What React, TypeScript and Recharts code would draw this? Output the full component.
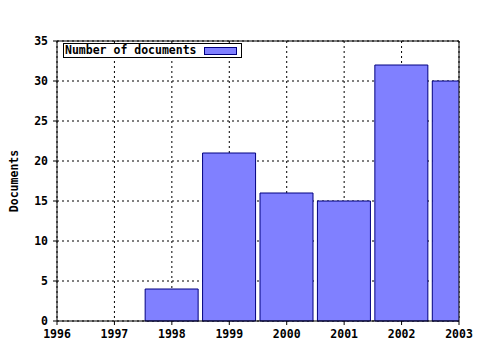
import { Bar, BarChart, CartesianGrid, ReferenceLine, XAxis, YAxis } from "recharts";

const years = [1996, 1997, 1998, 1999, 2000, 2001, 2002, 2003];
const documents = [0, 0, 4, 21, 16, 15, 32, 30];
const yTicks = [0, 5, 10, 15, 20, 25, 30, 35];
const seriesName = "Number of documents";
const yLabel = "Documents";

const data = years.map((year, i) => ({ year, documents: documents[i] }));
const minorTicks = years.slice(0, -1).flatMap((y) => [y + 0.25, y + 0.5, y + 0.75]);
const allTicks = [...years, ...minorTicks].sort((a, b) => a - b);

const font = '"DejaVu Sans Mono", monospace';
const tickStyle = { fill: "#000", fontSize: 11.5, fontFamily: font, fontWeight: "bold" };
const fillColor = "#8080ff";
const edgeColor = "#000080";

export default function App() {
  return (
    <div style={{ position: "absolute", left: 0, top: 0, width: 480, height: 350, background: "#fff" }}>
      <BarChart
        width={480}
        height={350}
        data={data}
        margin={{ top: 40, right: 21, bottom: 0, left: 0 }}
        barSize={53}
      >
        <CartesianGrid stroke="#000" strokeDasharray="2 3" />
        <XAxis
          dataKey="year"
          type="number"
          domain={[1996, 2003]}
          allowDataOverflow
          ticks={years}
          interval={0}
          height={29}
          tickSize={4}
          tickMargin={5}
          axisLine={{ stroke: "#000" }}
          tickLine={{ stroke: "#000" }}
          tick={tickStyle}
        />
        <XAxis
          xAxisId="minor"
          dataKey="year"
          type="number"
          domain={[1996, 2003]}
          allowDataOverflow
          ticks={minorTicks}
          interval={0}
          mirror
          height={1}
          tickSize={-3}
          axisLine={false}
          tickLine={{ stroke: "#000" }}
          tick={false}
        />
        <XAxis
          xAxisId="top"
          orientation="top"
          dataKey="year"
          type="number"
          domain={[1996, 2003]}
          allowDataOverflow
          ticks={allTicks}
          interval={0}
          height={1}
          tickSize={3}
          axisLine={{ stroke: "#000" }}
          tickLine={{ stroke: "#000" }}
          tick={false}
        />
        <YAxis
          type="number"
          domain={[0, 35]}
          ticks={yTicks}
          interval={0}
          width={57}
          tickSize={4}
          tickMargin={5}
          axisLine={{ stroke: "#000" }}
          tickLine={{ stroke: "#000" }}
          tick={tickStyle}
          label={{
            value: yLabel,
            angle: -90,
            position: "insideLeft",
            offset: 14,
            style: { textAnchor: "middle", fill: "#000", fontSize: 11.5, fontFamily: font, fontWeight: "bold" },
          }}
        />
        <Bar
          dataKey="documents"
          name={seriesName}
          fill={fillColor}
          stroke={edgeColor}
          strokeWidth={1}
          isAnimationActive={false}
        />
        <ReferenceLine x={2003} stroke="#000" />
      </BarChart>
      <div
        style={{
          position: "absolute",
          left: 63,
          top: 43,
          width: 179,
          height: 15,
          boxSizing: "border-box",
          border: "1px solid #000",
          background: "#fff",
          fontFamily: font,
          fontWeight: "bold",
          fontSize: 11.5,
          lineHeight: "13px",
          paddingLeft: 1,
          color: "#000",
          whiteSpace: "nowrap",
        }}
      >
        {seriesName}
        <span
          style={{
            position: "absolute",
            left: 140,
            top: 3,
            width: 33,
            height: 8,
            boxSizing: "border-box",
            border: `1px solid ${edgeColor}`,
            background: fillColor,
          }}
        />
      </div>
    </div>
  );
}
